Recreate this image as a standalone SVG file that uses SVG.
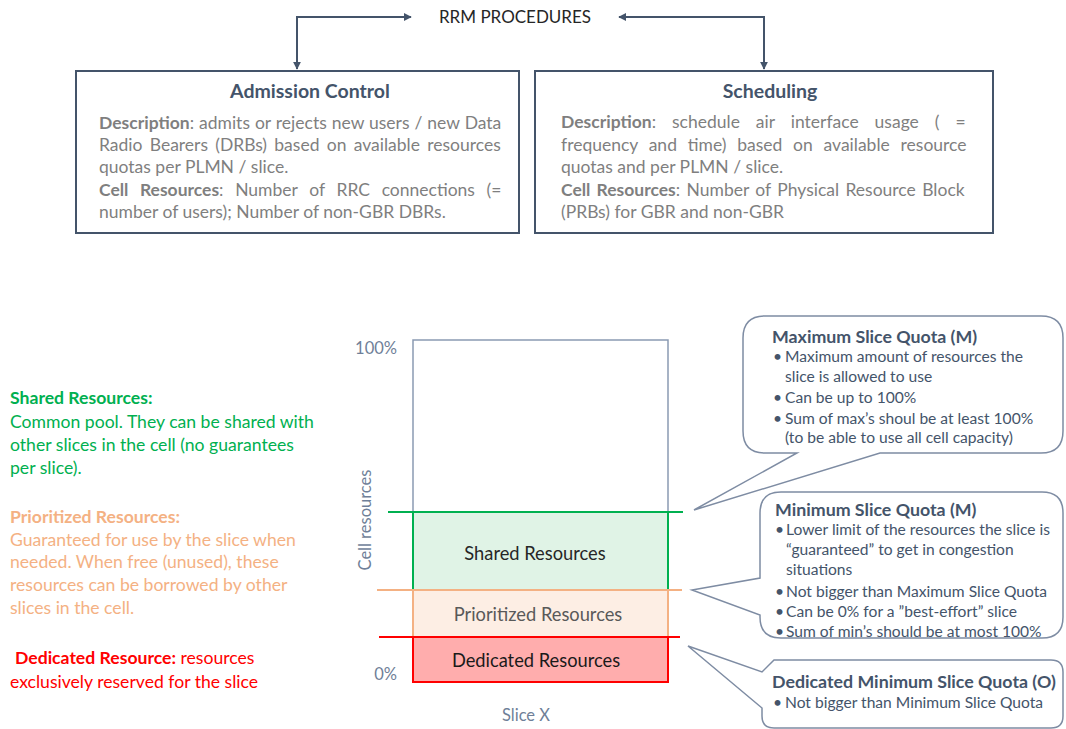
<svg xmlns="http://www.w3.org/2000/svg" width="1066" height="729" viewBox="0 0 1066 729">
  <defs>
    <marker id="arrow" viewBox="0 0 10 10" refX="9" refY="5" markerWidth="4" markerHeight="4" orient="auto-start-reverse" markerUnits="strokeWidth">
      <path d="M0,0 L10,5 L0,10 Z" fill="#44546a"/>
    </marker>
    <style>
      text { font-family: Lato, "Open Sans", "Liberation Sans", sans-serif; }
      .conn { fill: none; stroke: #44546a; stroke-width: 2; }
      .proc { fill: #ffffff; stroke: #44546a; stroke-width: 2; }
      .ptitle { font-size: 19.5px; font-weight: bold; fill: #44546a; text-anchor: middle; }
      .body { font-size: 17.5px; fill: #7f7f7f; }
      .b { font-weight: bold; }
      .callout { fill: #ffffff; stroke: #7e8ca3; stroke-width: 1.5; }
      .ctitle { font-size: 17.8px; font-weight: bold; fill: #44546a; }
      .cbody { font-size: 15.6px; fill: #44546a; }
      .axis { font-size: 16.5px; fill: #6f7f98; }
      .green { fill: #00b050; font-size: 17.6px; }
      .peach { fill: #f4b183; font-size: 17.6px; }
      .red { fill: #ff0000; font-size: 17.6px; }
      .seg { font-size: 18.3px; text-anchor: middle; }
    </style>
  </defs>

  <!-- heading -->
  <g id="rrm-procedures">
    <text x="515" y="23" font-size="17" fill="#262626" text-anchor="middle">RRM PROCEDURES</text>
  </g>

  <!-- connectors -->
  <g id="connectors">
    <path class="conn" d="M297,69 V17 H411" marker-start="url(#arrow)" marker-end="url(#arrow)"/>
    <path class="conn" d="M764,69 V17 H619" marker-start="url(#arrow)" marker-end="url(#arrow)"/>
  </g>

  <!-- Admission Control (justified lines widened with word-spacing) -->
  <g id="admission-control">
    <rect class="proc" x="76" y="71" width="443" height="162"/>
    <text class="ptitle" x="310" y="98">Admission Control</text>
    <text class="body" x="99" y="129" word-spacing="0.5"><tspan class="b">Description</tspan>: admits or rejects new users / new Data</text>
    <text class="body" x="99" y="151" word-spacing="2.8">Radio Bearers (DRBs) based on available resources</text>
    <text class="body" x="99" y="173">quotas per PLMN / slice.</text>
    <text class="body" x="99" y="196" word-spacing="7.2"><tspan class="b">Cell Resources</tspan>: Number of RRC connections (=</text>
    <text class="body" x="99" y="218">number of users); Number of non-GBR DBRs.</text>
  </g>

  <!-- Scheduling -->
  <g id="scheduling">
    <rect class="proc" x="535" y="71" width="458" height="162"/>
    <text class="ptitle" x="770" y="98">Scheduling</text>
    <text class="body" x="561" y="128" word-spacing="11.5"><tspan class="b">Description</tspan>: schedule air interface usage ( =</text>
    <text class="body" x="561" y="151" word-spacing="6.3">frequency and time) based on available resource</text>
    <text class="body" x="561" y="173">quotas and per PLMN / slice.</text>
    <text class="body" x="561" y="196" word-spacing="1.9"><tspan class="b">Cell Resources</tspan>: Number of Physical Resource Block</text>
    <text class="body" x="561" y="218">(PRBs) for GBR and non-GBR</text>
  </g>

  <!-- resource legend -->
  <g id="legend">
    <text class="green" x="10" y="404"><tspan font-weight="bold">Shared Resources:</tspan></text>
    <text class="green" x="10" y="428">Common pool. They can be shared with</text>
    <text class="green" x="10" y="451">other slices in the cell (no guarantees</text>
    <text class="green" x="10" y="474">per slice).</text>
    <text class="peach" x="10" y="523"><tspan font-weight="bold">Prioritized Resources:</tspan></text>
    <text class="peach" x="10" y="546">Guaranteed for use by the slice when</text>
    <text class="peach" x="10" y="568">needed. When free (unused), these</text>
    <text class="peach" x="10" y="591">resources can be borrowed by other</text>
    <text class="peach" x="10" y="614">slices in the cell.</text>
    <text class="red" x="15" y="664"><tspan font-weight="bold">Dedicated Resource:</tspan> resources</text>
    <text class="red" x="10" y="688">exclusively reserved for the slice</text>
  </g>

  <!-- slice resource bar -->
  <g id="slice-bar">
    <rect x="413" y="340" width="255" height="172" fill="#ffffff"/>
    <rect x="413" y="512" width="255" height="78" fill="#e0f3e6"/>
    <rect x="413" y="590" width="255" height="47" fill="#fdeee4"/>
    <rect x="413" y="637" width="255" height="45" fill="#ffadad"/>
    <path d="M413,512 V340 H668 V512" fill="none" stroke="#8a9ab3" stroke-width="1.5"/>
    <path d="M413,512 V590 M668,512 V590" stroke="#00b050" stroke-width="2"/>
    <path d="M413,590 V637 M668,590 V637" stroke="#f4b183" stroke-width="2"/>
    <path d="M413,637 V682 H668 V637" fill="none" stroke="#ff0000" stroke-width="2"/>
    <line x1="388" y1="512" x2="683" y2="512" stroke="#00b050" stroke-width="2"/>
    <line x1="377" y1="590" x2="682" y2="590" stroke="#f4b183" stroke-width="2"/>
    <line x1="379" y1="637" x2="680" y2="637" stroke="#ff0000" stroke-width="2"/>
    <text class="seg" x="535" y="560" fill="#262626">Shared Resources</text>
    <text class="seg" x="538" y="621" fill="#595959">Prioritized Resources</text>
    <text class="seg" x="536" y="667" fill="#1a1a1a">Dedicated Resources</text>
    <text class="axis" x="397" y="354" text-anchor="end">100%</text>
    <text class="axis" x="397" y="680" text-anchor="end">0%</text>
    <text class="axis" x="366" y="520" text-anchor="middle" transform="rotate(-90 366 520)" dy="5">Cell resources</text>
    <text class="axis" x="526" y="721" text-anchor="middle">Slice X</text>
  </g>

  <!-- callouts -->
  <g id="max-slice-quota">
    <path class="callout" d="M765,316 H1041 Q1063,316 1063,338 V431 Q1063,453 1041,453 H880 L694,510 L797,453 H765 Q743,453 743,431 V338 Q743,316 765,316 Z"/>
    <text class="ctitle" x="772" y="343">Maximum Slice Quota (M)</text>
    <text class="cbody" x="773" y="362">•</text>
    <text class="cbody" x="785" y="362">Maximum amount of resources the</text>
    <text class="cbody" x="785" y="382">slice is allowed to use</text>
    <text class="cbody" x="773" y="403">•</text>
    <text class="cbody" x="785" y="403">Can be up to 100%</text>
    <text class="cbody" x="773" y="424">•</text>
    <text class="cbody" x="785" y="424">Sum of max’s shoul be at least 100%</text>
    <text class="cbody" x="785" y="443">(to be able to use all cell capacity)</text>
  </g>

  <g id="min-slice-quota">
    <path class="callout" d="M781,492 H1042 Q1063,492 1063,513 V617 Q1063,638 1042,638 H781 Q760,638 760,617 V615 L692,590 L760,578 V513 Q760,492 781,492 Z"/>
    <text class="ctitle" x="775" y="516">Minimum Slice Quota (M)</text>
    <text class="cbody" x="775" y="535">•</text>
    <text class="cbody" x="786" y="535">Lower limit of the resources the slice is</text>
    <text class="cbody" x="786" y="555">“guaranteed” to get in congestion</text>
    <text class="cbody" x="786" y="575">situations</text>
    <text class="cbody" x="775" y="597">•</text>
    <text class="cbody" x="786" y="597">Not bigger than Maximum Slice Quota</text>
    <text class="cbody" x="775" y="617">•</text>
    <text class="cbody" x="786" y="617">Can be 0% for a ”best-effort” slice</text>
    <text class="cbody" x="775" y="637">•</text>
    <text class="cbody" x="786" y="637">Sum of min’s should be at most 100%</text>
  </g>

  <g id="dedicated-min-slice-quota">
    <path class="callout" d="M774,660 H1051 Q1063,660 1063,672 V716 Q1063,728 1051,728 H774 Q762,728 762,716 V708 L688,646 L762,672 Z"/>
    <text class="ctitle" x="772" y="688">Dedicated Minimum Slice Quota (O)</text>
    <text class="cbody" x="773" y="708">•</text>
    <text class="cbody" x="785" y="708">Not bigger than Minimum Slice Quota</text>
  </g>
</svg>
